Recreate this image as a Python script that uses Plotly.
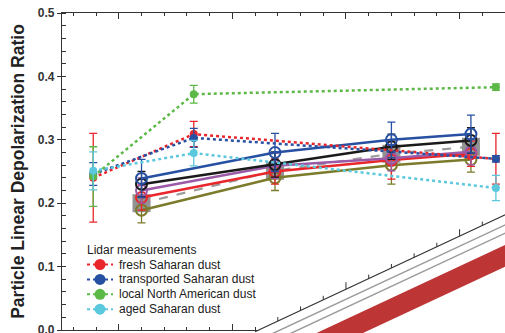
import plotly.graph_objects as go

# ---------------- data ----------------
wl_lidar = [355, 532, 1064]
wl_lab = [440, 675, 880, 1020]

lidar_names = ["fresh Saharan dust", "transported Saharan dust",
               "local North American dust", "aged Saharan dust"]
lidar_colors = ["#e8262b", "#2750a3", "#5cb947", "#5bc8dd"]
fresh = [0.240, 0.309, 0.270]
fresh_err = [0.070, 0.020, 0.040]
transported = [0.246, 0.303, 0.270]
transported_err = [0.018, 0.015, 0.005]
local_na = [0.242, 0.372, 0.383]
local_na_err = [0.047, 0.014, 0.005]
aged = [0.251, 0.279, 0.224]
aged_err = [0.030, 0.020, 0.020]

lab_gray = [0.200, 0.251, 0.278, 0.289]
lab_olive = [0.189, 0.240, 0.260, 0.269]
lab_olive_err = [0.020, 0.020, 0.030, 0.020]
lab_red = [0.209, 0.250, 0.268, 0.278]
lab_red_err = [0.020, 0.020, 0.030, 0.020]
lab_purple = [0.220, 0.259, 0.271, 0.281]
lab_purple_err = [0.020, 0.020, 0.020, 0.020]
lab_black = [0.230, 0.261, 0.289, 0.299]
lab_black_err = [0.020, 0.020, 0.020, 0.020]
lab_blue = [0.239, 0.280, 0.300, 0.309]
lab_blue_err = [0.030, 0.030, 0.028, 0.030]

legend_title = "Lidar measurements"
y_title = "Particle Linear Depolarization Ratio"

# ---------------- figure ----------------
fig = go.Figure()

# gray dashed series with square boxes
fig.add_trace(go.Scatter(
    x=wl_lab, y=lab_gray, mode="lines+markers",
    line=dict(color="#9a9a9a", width=2.2, dash="dash"),
    marker=dict(symbol="square", size=18, color="#939393", line=dict(width=0)),
))

lab_series = [
    (lab_olive, lab_olive_err, "#7c7b2b"),
    (lab_red, lab_red_err, "#e8262b"),
    (lab_purple, lab_purple_err, "#9b5aa8"),
    (lab_black, lab_black_err, "#1a1a1a"),
    (lab_blue, lab_blue_err, "#2750a3"),
]
for vals, errs, col in lab_series:
    fig.add_trace(go.Scatter(
        x=wl_lab, y=vals, mode="lines+markers",
        line=dict(color=col, width=2.5),
        marker=dict(symbol="circle-open", size=11, color=col, line=dict(width=2)),
        error_y=dict(type="data", array=errs, color=col, thickness=1.3, width=4),
    ))

lidar_series = [(fresh, fresh_err), (transported, transported_err),
                (local_na, local_na_err), (aged, aged_err)]
for (vals, errs), col, name in zip(lidar_series, lidar_colors, lidar_names):
    fig.add_trace(go.Scatter(
        x=wl_lidar, y=vals, mode="lines+markers", name=name,
        line=dict(color=col, width=2.5, dash="dot"),
        marker=dict(symbol="circle", size=8, color=col),
        error_y=dict(type="data", array=errs, color=col, thickness=1.3, width=4),
    ))

W, H = 505, 333
L, R, T, B = 62, 0, 13, 3
PW, PH = W - L - R, H - T - B
X0, X1 = 300, 1080


def px(X):
    return (X - L) / PW


def py(Y):
    return (H - B - Y) / PH


def xpix(wl):
    return L + (wl - X0) * PW / (X1 - X0)


shapes = []
annotations = []

# decorative tilted panel edge in lower right
slope = 0.467


def yline(X):
    return 331.7 - slope * (X - 255)


white = "M {},{} L {},{} L {},{} L {},{} Z".format(
    px(245), py(yline(245)), px(515), py(yline(515)), px(515), py(345), px(245), py(345))
shapes.append(dict(type="path", path=white, xref="paper", yref="paper",
                   fillcolor="white", line=dict(width=0), layer="above"))
red_band = "M {},{} L {},{} L {},{} L {},{} Z".format(
    px(301.6), py(340), px(520), py(238), px(520), py(259.7), px(348), py(340))
shapes.append(dict(type="path", path=red_band, xref="paper", yref="paper",
                   fillcolor="#bd3535", line=dict(width=0), layer="above"))
for x_start in (273.7, 291.5):
    shapes.append(dict(type="line", xref="paper", yref="paper",
                       x0=px(x_start - 10), y0=py(333 + 10 * slope),
                       x1=px(515), y1=py(333 - slope * (515 - x_start)),
                       line=dict(color="#9c9c9c", width=1.5), layer="above"))
shapes.append(dict(type="line", xref="paper", yref="paper",
                   x0=px(255), y0=py(yline(255)), x1=px(515), y1=py(yline(515)),
                   line=dict(color="#333333", width=1.2), layer="above"))
for wl in range(680, 1080, 40):
    X = xpix(wl)
    ln = 7 if wl % 200 == 0 else 4
    shapes.append(dict(type="line", xref="paper", yref="paper",
                       x0=px(X), x1=px(X), y0=py(yline(X)), y1=py(yline(X) - ln),
                       line=dict(color="#333333", width=1), layer="above"))

# manual legend
annotations.append(dict(text=legend_title, xref="paper", yref="paper",
                        x=px(85), y=py(250), xanchor="left", yanchor="middle",
                        showarrow=False, font=dict(size=12, color="#1a1a1a")))
for i, (name, col) in enumerate(zip(lidar_names, lidar_colors)):
    Yc = 264.5 + 14.9 * i
    shapes.append(dict(type="line", xref="paper", yref="paper",
                       x0=px(87), x1=px(113), y0=py(Yc), y1=py(Yc),
                       line=dict(color=col, width=2, dash="dot"), layer="above"))
    shapes.append(dict(type="circle", xref="paper", yref="paper",
                       xsizemode="pixel", ysizemode="pixel",
                       xanchor=px(100), yanchor=py(Yc), x0=-5.5, x1=5.5, y0=-5.5, y1=5.5,
                       fillcolor=col, line=dict(width=0), layer="above"))
    annotations.append(dict(text=name, xref="paper", yref="paper",
                            x=px(117), y=py(Yc), xanchor="left", yanchor="middle",
                            showarrow=False, font=dict(size=12, color="#1a1a1a")))

fig.update_layout(
    width=W, height=H,
    margin=dict(l=L, r=R, t=T, b=B),
    plot_bgcolor="white", paper_bgcolor="white",
    showlegend=False,
    font=dict(family="Liberation Sans, Arial, sans-serif", color="#222222"),
    shapes=shapes, annotations=annotations,
)
fig.update_xaxes(
    range=[X0, X1], showline=True, linecolor="#333333", linewidth=1.3,
    mirror="allticks", ticks="inside", ticklen=6, tickwidth=1, tickcolor="#333333",
    tick0=400, dtick=200, showticklabels=False, showgrid=False, zeroline=False,
    minor=dict(ticks="inside", ticklen=3, dtick=40, tickcolor="#333333", showgrid=False),
)
fig.update_yaxes(
    range=[0, 0.5], showline=True, linecolor="#333333", linewidth=1.3,
    ticks="outside", ticklen=4, tickwidth=1, tickcolor="#333333",
    tick0=0, dtick=0.1, tickformat=".1f", showgrid=False, zeroline=False,
    tickfont=dict(size=12, weight="bold", color="#333333"),
    ticklabeloverflow="allow",
    minor=dict(ticks="inside", ticklen=4, dtick=0.02, tickcolor="#333333", showgrid=False),
    title=dict(text=y_title, font=dict(size=17.5, weight="bold", color="#222222"), standoff=8),
    automargin=False,
)

fig.write_html("out.html", config={"displayModeBar": False},
               post_script="document.body.style.margin='0';document.body.style.overflow='hidden';")
